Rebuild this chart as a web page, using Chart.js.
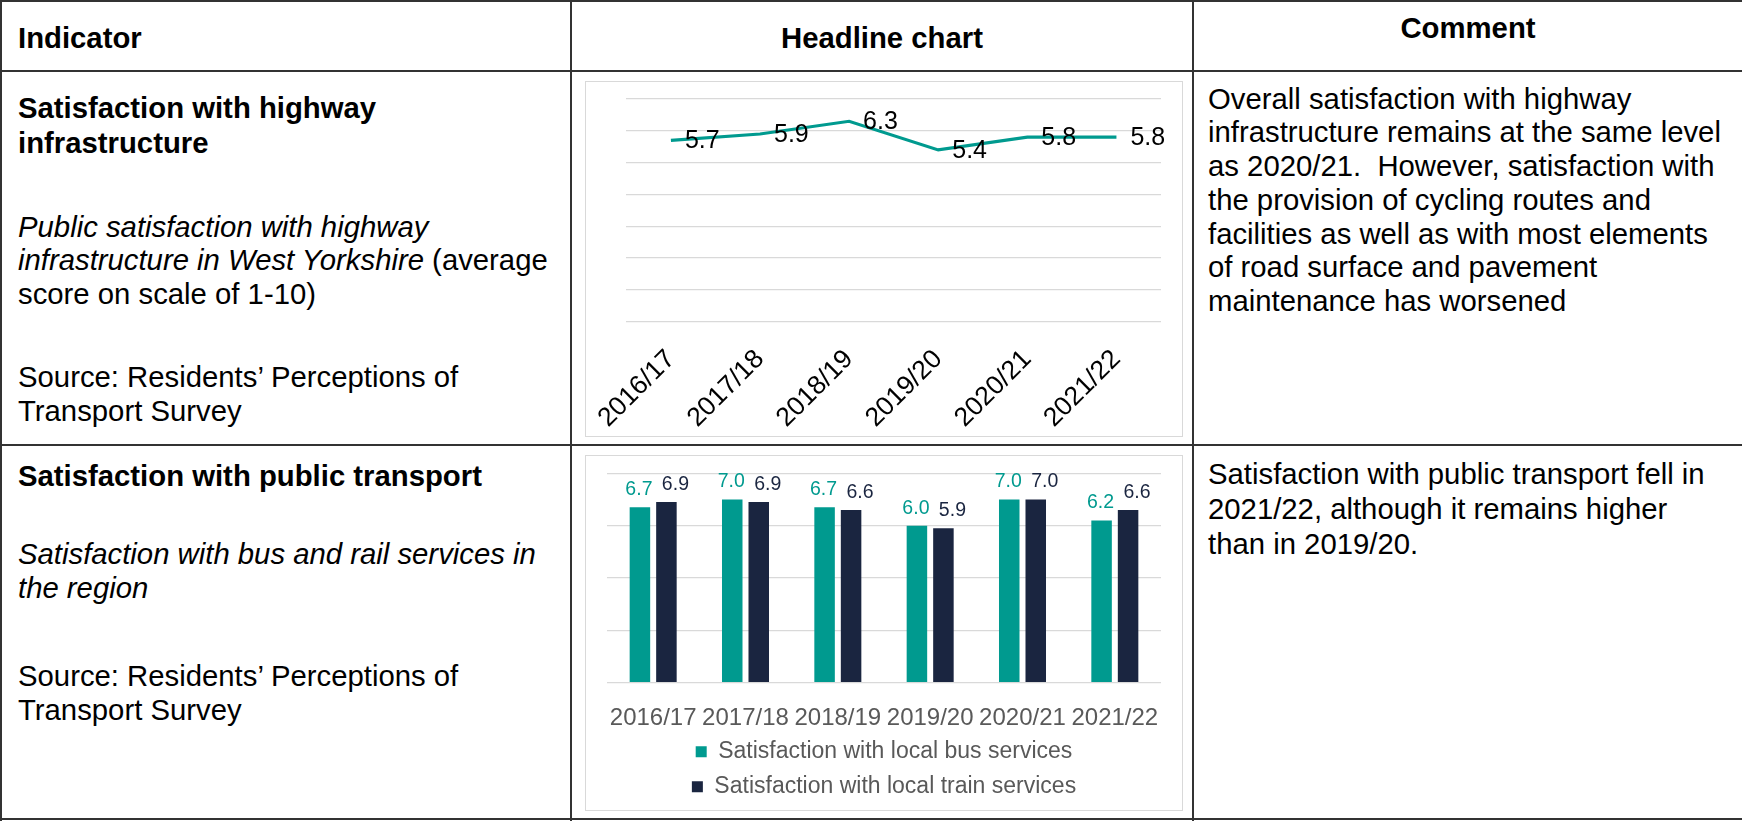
<!DOCTYPE html>
<html>
<head>
<meta charset="utf-8">
<script src="https://cdn.jsdelivr.net/npm/chart.js@4.4.1/dist/chart.umd.min.js"></script>
<style>
  html, body { margin: 0; padding: 0; background: #fff; }
  body { width: 1742px; height: 821px; position: relative; overflow: hidden;
         font-family: "Liberation Sans", Arial, sans-serif; color: #000; }
  .ln { position: absolute; background: #333; }
  .txt { position: absolute; font-size: 29.3px; line-height: 34px; white-space: nowrap; }
  .b { font-weight: bold; }
  .i { font-style: italic; }
  .frame { position: absolute; left: 585px; width: 598px; height: 356px;
           border: 1px solid #d9d9d9; box-sizing: border-box; background: #fff; }
  .frame div { position: relative; width: 100%; height: 100%; }
</style>
</head>
<body>
<!-- table rules -->
<div class="ln" style="left:0;top:0;width:1742px;height:2px"></div>
<div class="ln" style="left:0;top:0;width:2px;height:821px"></div>
<div class="ln" style="left:570px;top:0;width:2px;height:821px"></div>
<div class="ln" style="left:1192px;top:0;width:2px;height:821px"></div>
<div class="ln" style="left:0;top:70px;width:1742px;height:2px"></div>
<div class="ln" style="left:0;top:444px;width:1742px;height:2px"></div>
<div class="ln" style="left:0;top:818px;width:1742px;height:2px"></div>

<!-- header -->
<div class="txt b" style="left:18px;top:20.5px">Indicator</div>
<div class="txt b" style="left:572px;width:620px;text-align:center;top:20.5px">Headline chart</div>
<div class="txt b" style="left:1194px;width:548px;text-align:center;top:10.5px">Comment</div>

<!-- row 1 -->
<div class="txt b" style="left:18px;top:90px;line-height:35px">Satisfaction with highway<br>infrastructure</div>
<div class="txt" style="left:18px;top:210px;line-height:33.3px"><span class="i">Public satisfaction with highway<br>infrastructure in West Yorkshire</span> (average<br>score on scale of 1-10)</div>
<div class="txt" style="left:18px;top:360px;line-height:33.5px">Source: Residents’ Perceptions of<br>Transport Survey</div>
<div class="txt" style="left:1208px;top:81.5px;line-height:33.8px">Overall satisfaction with highway<br>infrastructure remains at the same level<br>as 2020/21.&nbsp; However, satisfaction with<br>the provision of cycling routes and<br>facilities as well as with most elements<br>of road surface and pavement<br>maintenance has worsened</div>

<!-- row 2 -->
<div class="txt b" style="left:18px;top:459px">Satisfaction with public transport</div>
<div class="txt i" style="left:18px;top:537px;line-height:33.5px">Satisfaction with bus and rail services in<br>the region</div>
<div class="txt" style="left:18px;top:659px;line-height:33.5px">Source: Residents’ Perceptions of<br>Transport Survey</div>
<div class="txt" style="left:1208px;top:455.5px;line-height:35px">Satisfaction with public transport fell in<br>2021/22, although it remains higher<br>than in 2019/20.</div>

<!-- charts -->
<div class="frame" style="top:81px"><div><canvas id="highwayChart"></canvas></div></div>
<div class="frame" style="top:455px"><div><canvas id="transportChart"></canvas></div></div>

<script>
// data
const years = ['2016/17', '2017/18', '2018/19', '2019/20', '2020/21', '2021/22'];
const highwayScores = [5.7, 5.9, 6.3, 5.4, 5.8, 5.8];
const busScores = [6.7, 7.0, 6.7, 6.0, 7.0, 6.2];
const trainScores = [6.9, 6.9, 6.6, 5.9, 7.0, 6.6];
const seriesNames = ['Satisfaction with local bus services', 'Satisfaction with local train services'];

const TEAL = '#009a8f';
const NAVY = '#1a2540';
const GRID = '#d9d9d9';

Chart.defaults.font.family = '"Liberation Sans", Arial, sans-serif';
Chart.defaults.animation = false;

// value labels drawn next to each point / on top of each bar
const valueLabels = {
    id: 'valueLabels',
    afterDatasetsDraw(chart, args, opts) {
        const ctx = chart.ctx;
        ctx.save();
        ctx.font = opts.size + 'px "Liberation Sans", Arial, sans-serif';
        chart.data.datasets.forEach((ds, i) => {
            const meta = chart.getDatasetMeta(i);
            ctx.fillStyle = opts.colors[i];
            meta.data.forEach((el, j) => {
                const text = ds.data[j].toFixed(1);
                if (opts.mode === 'right') {
                    ctx.textAlign = 'left';
                    ctx.textBaseline = 'middle';
                    ctx.fillText(text, el.x + 14, el.y + 1);
                } else {
                    ctx.textAlign = 'center';
                    ctx.textBaseline = 'alphabetic';
                    ctx.fillText(text, el.x + (opts.shift[i] || 0), el.y - 12);
                }
            });
        });
        ctx.restore();
    }
};

// 1. highway line chart
new Chart(document.getElementById('highwayChart'), {
    type: 'line',
    data: {
        labels: years,
        datasets: [{
            data: highwayScores,
            borderColor: TEAL,
            borderWidth: 3.2,
            pointRadius: 0,
            tension: 0,
            fill: false
        }]
    },
    options: {
        responsive: true,
        maintainAspectRatio: false,
        layout: { padding: { left: 38, right: 21, top: 17, bottom: 0 } },
        plugins: {
            legend: { display: false },
            tooltip: { enabled: false },
            valueLabels: { mode: 'right', size: 25, colors: ['#000'] }
        },
        scales: {
            x: {
                offset: true,
                grid: { display: false },
                border: { display: false },
                ticks: { color: '#000', font: { size: 26.5 }, minRotation: 45, maxRotation: 45, padding: 14, autoSkip: false },
                afterFit: s => { s.height = 114.3; }
            },
            y: {
                min: 0, max: 7,
                grid: { color: GRID, lineWidth: 1.3, drawTicks: false },
                border: { display: false },
                ticks: { display: false, stepSize: 1 }
            }
        }
    },
    plugins: [valueLabels]
});

// 2. public transport bar chart
new Chart(document.getElementById('transportChart'), {
    type: 'bar',
    data: {
        labels: years,
        datasets: [
            { label: seriesNames[0], data: busScores, backgroundColor: TEAL },
            { label: seriesNames[1], data: trainScores, backgroundColor: NAVY }
        ]
    },
    options: {
        responsive: true,
        maintainAspectRatio: false,
        categoryPercentage: 0.574,
        barPercentage: 0.774,
        layout: { padding: { left: 21, right: 21, top: 17.3, bottom: 1.8 } },
        plugins: {
            legend: {
                position: 'bottom',
                labels: { color: '#595959', font: { size: 23 }, boxWidth: 11, boxHeight: 11, padding: 12 }
            },
            tooltip: { enabled: false },
            valueLabels: { mode: 'top', size: 19.5, colors: [TEAL, NAVY], shift: [-1, 9] }
        },
        scales: {
            x: {
                grid: { display: false },
                border: { display: false },
                ticks: { color: '#595959', font: { size: 24 }, padding: 13, maxRotation: 0, autoSkip: false },
                afterFit: s => { s.height = 45.5; }
            },
            y: {
                min: 0, max: 8,
                grid: { color: GRID, lineWidth: 1.3, drawTicks: false },
                border: { display: false },
                ticks: { display: false, stepSize: 2 }
            }
        }
    },
    plugins: [valueLabels]
});
</script>
</body>
</html>
